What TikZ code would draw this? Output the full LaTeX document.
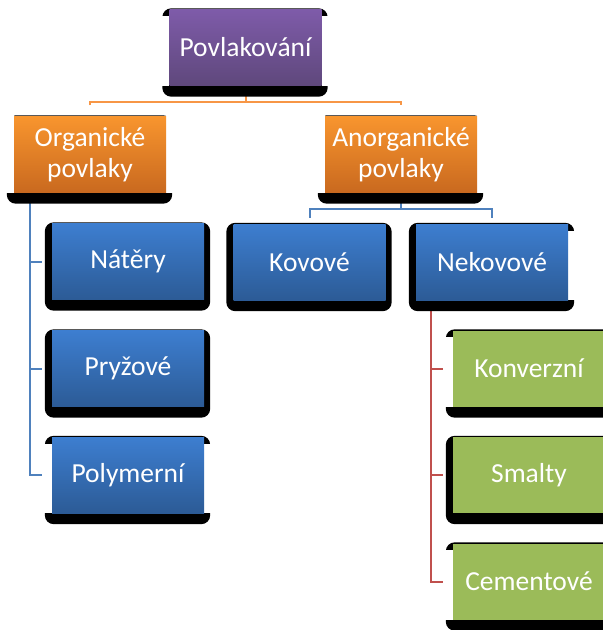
\documentclass[tikz,border=0pt]{standalone}
\usepackage{fontspec}
\setmainfont{Carlito}
\usepackage{tikz}
\usetikzlibrary{backgrounds}

\definecolor{purpletop}{HTML}{7E5BA9}
\definecolor{purplebot}{HTML}{5F487C}
\definecolor{orangetop}{HTML}{F8952E}
\definecolor{orangebot}{HTML}{C9691F}
\definecolor{bluetop}{HTML}{3D7ED0}
\definecolor{bluebot}{HTML}{2C5B96}
\definecolor{greenfill}{HTML}{9BBB59}
\definecolor{orangeline}{HTML}{F79646}
\definecolor{blueline}{HTML}{4F81BD}
\definecolor{redline}{HTML}{C0504D}

\tikzset{
  box/.style={minimum width=152pt, minimum height=76pt, inner sep=0pt,
    text=white, align=center, font=\fontsize{27.5}{31}\selectfont},
  purplebox/.style={box, top color=purpletop, bottom color=purplebot},
  orangebox/.style={box, top color=orangetop, bottom color=orangebot},
  bluebox/.style={box, top color=bluetop, bottom color=bluebot},
  greenbox/.style={box, fill=greenfill},
  link/.style={line width=2pt}
}

\begin{document}
\begin{tikzpicture}[x=1pt, y=-1pt]
      \useasboundingbox (0, 0) rectangle (603, 630);
      \node [purplebox] (pov) at (245.5, 47.5) {Povlakování};
      \node [orangebox] (org) at (90, 154.5) {Organické\\povlaky};
      \node [orangebox] (anorg) at (401, 154.5) {Anorganické\\povlaky};
      \node [bluebox] (kov) at (309.5, 262) {Kovové};
      \node [bluebox] (nekov) at (492, 262) {Nekovové};
      \node [bluebox] (nat) at (128, 261.5) {Nátěry};
      \node [bluebox] (pryz) at (128, 368.5) {Pryžové};
      \node [bluebox] (poly) at (128, 475) {Polymerní};
      \node [greenbox] (konv) at (529, 368.5) {Konverzní};
      \node [greenbox] (smal) at (529, 475) {Smalty};
      \node [greenbox] (cem) at (529, 581.5) {Cementové};
      \begin{scope}[on background layer]
        % connectors
        \draw [link, orangeline] (pov.south) -- ++(0, 16) coordinate (fork);
        \draw [link, orangeline] ([yshift=11pt]org.north) |- (fork) -| ([yshift=11pt]anorg.north);
        \draw [link, blueline] (anorg.south) -- ++(0, 16) coordinate (fork2);
        \draw [link, blueline] ([yshift=6pt]kov.north) |- (fork2) -| ([yshift=6pt]nekov.north);
        \foreach \kid in {nat, pryz, poly} {
          \draw [link, blueline] ([xshift=16pt]org.south west) |- ([xshift=-10pt]\kid.west);
        }
        \foreach \kid in {konv, smal, cem} {
          \draw [link, redline] ([xshift=15pt]nekov.south west) |- ([xshift=-10pt]\kid.west);
        }
        % black backing
        \foreach \n in {pov, org, anorg, kov, nekov, nat, pryz, poly, konv, smal, cem} {
          \fill [black, rounded corners=9pt] ([xshift=-7pt, yshift=1pt]\n.north west)
            rectangle ([xshift=6pt, yshift=-11pt]\n.south east);
        }
        % gaps in the backing
        \foreach \n/\top in {pov/-7, org/2, anorg/2, poly/-7, konv/-7, cem/-7} {
          \fill [white] ([xshift=-8pt, yshift=\top pt]\n.north west) rectangle (\n.south west);
        }
        \foreach \n/\top in {pov/-7, org/2, anorg/2, nekov/-7, poly/-7} {
          \fill [white] ([yshift=\top pt]\n.north east) rectangle ([xshift=8pt]\n.south east);
        }
      \end{scope}
    \end{tikzpicture}
\end{document}
